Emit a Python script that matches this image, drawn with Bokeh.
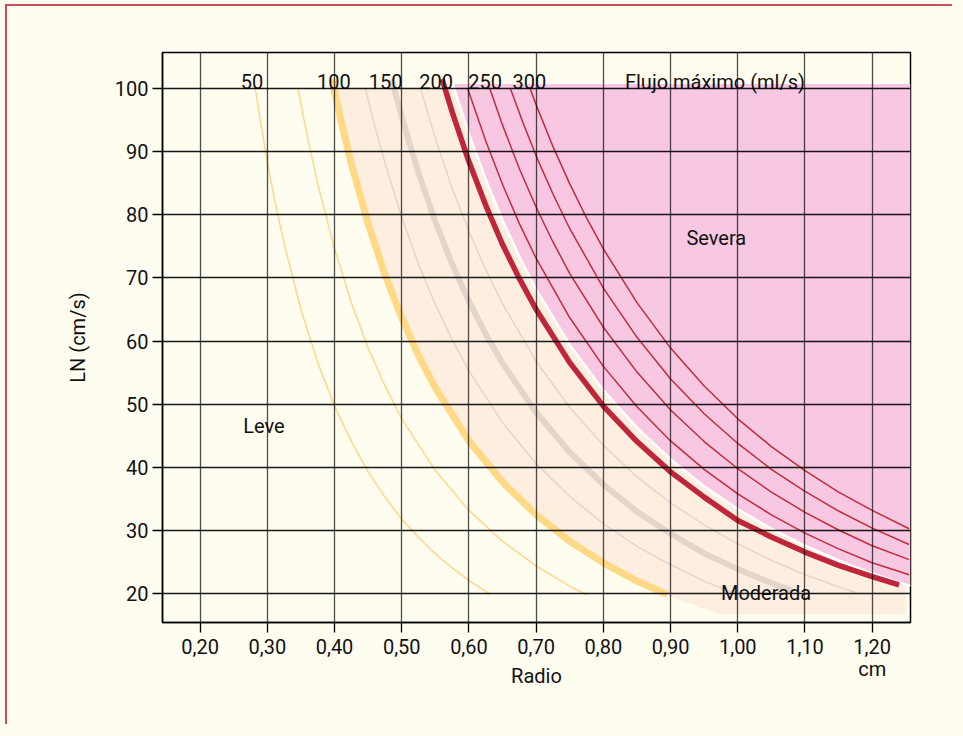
from bokeh.plotting import figure
from bokeh.models import Range1d, FixedTicker
from bokeh.core.properties import value
from bokeh.embed import file_html
from bokeh.resources import INLINE

FONT = "Roboto"

# ---- data: radius (cm) vs aliasing velocity LN (cm/s)
q50_r = [0.282, 0.29, 0.30, 0.31, 0.325, 0.35, 0.375, 0.40, 0.425, 0.45, 0.475, 0.50, 0.525, 0.55, 0.575, 0.60, 0.632]
q50_v = [100.0, 94.6, 88.4, 82.8, 75.4, 65.0, 56.6, 49.7, 44.1, 39.3, 35.3, 31.8, 28.9, 26.3, 24.1, 22.1, 19.9]

q75_r = [0.3455, 0.36, 0.375, 0.40, 0.425, 0.45, 0.475, 0.50, 0.55, 0.60, 0.65, 0.70, 0.75, 0.776]
q75_v = [100.0, 92.1, 84.9, 74.6, 66.1, 58.9, 52.9, 47.7, 39.5, 33.2, 28.3, 24.4, 21.2, 19.8]

q100_r = [0.396, 0.41, 0.425, 0.45, 0.475, 0.50, 0.525, 0.55, 0.60, 0.65, 0.70, 0.75, 0.80, 0.85, 0.895]
q100_v = [101.5, 94.7, 88.1, 78.6, 70.5, 63.7, 57.7, 52.6, 44.2, 37.7, 32.5, 28.3, 24.9, 22.0, 19.9]

q125_r = [0.446, 0.46, 0.475, 0.50, 0.525, 0.55, 0.575, 0.60, 0.65, 0.70, 0.75, 0.80, 0.85, 0.90, 0.95, 0.997]
q125_v = [100.0, 94.0, 88.2, 79.6, 72.2, 65.8, 60.2, 55.3, 47.1, 40.6, 35.4, 31.1, 27.5, 24.6, 22.0, 20.0]

q150_r = [0.485, 0.50, 0.525, 0.55, 0.575, 0.60, 0.625, 0.65, 0.70, 0.75, 0.80, 0.85, 0.90, 0.95, 1.00, 1.05, 1.08]
q150_v = [101.5, 95.5, 86.6, 78.9, 72.2, 66.3, 61.1, 56.5, 48.7, 42.4, 37.3, 33.0, 29.5, 26.4, 23.9, 21.7, 20.5]

q175_r = [0.528, 0.55, 0.575, 0.60, 0.625, 0.65, 0.70, 0.75, 0.80, 0.85, 0.90, 0.95, 1.00, 1.05, 1.10, 1.15, 1.175]
q175_v = [100.0, 92.1, 84.2, 77.4, 71.3, 65.9, 56.8, 49.5, 43.5, 38.5, 34.4, 30.9, 27.9, 25.3, 23.0, 21.1, 20.2]

q200_r = [0.56, 0.575, 0.60, 0.625, 0.65, 0.675, 0.70, 0.75, 0.80, 0.85, 0.90, 0.95, 1.00, 1.05, 1.10, 1.15, 1.20, 1.24]
q200_v = [101.5, 96.3, 88.4, 81.5, 75.3, 69.9, 65.0, 56.6, 49.7, 44.1, 39.3, 35.3, 31.6, 29.0, 26.6, 24.5, 22.7, 21.4]

q225_r = [0.598, 0.625, 0.65, 0.675, 0.70, 0.75, 0.80, 0.85, 0.90, 0.95, 1.00, 1.05, 1.10, 1.15, 1.20, 1.255]
q225_v = [100.0, 91.7, 84.8, 78.6, 73.1, 63.7, 56.0, 49.6, 44.2, 39.7, 35.8, 32.5, 29.6, 27.1, 24.9, 23.0]

q250_r = [0.631, 0.65, 0.675, 0.70, 0.725, 0.75, 0.80, 0.85, 0.90, 0.95, 1.00, 1.05, 1.10, 1.15, 1.20, 1.255]
q250_v = [100.0, 94.2, 87.3, 81.2, 75.7, 70.7, 62.2, 55.1, 49.1, 44.1, 39.8, 36.1, 32.9, 30.1, 27.6, 25.4]

q275_r = [0.6616, 0.68, 0.70, 0.725, 0.75, 0.80, 0.85, 0.90, 0.95, 1.00, 1.05, 1.10, 1.15, 1.20, 1.255]
q275_v = [100.0, 94.7, 89.3, 83.3, 77.8, 68.4, 60.6, 54.0, 48.5, 43.8, 39.7, 36.2, 33.1, 30.4, 27.8]

q300_r = [0.691, 0.70, 0.725, 0.75, 0.775, 0.80, 0.85, 0.90, 0.95, 1.00, 1.05, 1.10, 1.15, 1.20, 1.255]
q300_v = [100.0, 97.4, 90.8, 84.9, 79.5, 74.6, 66.1, 58.9, 52.9, 47.7, 43.3, 39.5, 36.1, 33.2, 30.3]

# region boundaries
severa_r = [0.576, 0.60, 0.625, 0.65, 0.675, 0.70, 0.75, 0.80, 0.85, 0.90, 0.95, 1.00, 1.05, 1.10, 1.15, 1.20, 1.257, 1.257]
severa_v = [100.7, 92.8, 85.6, 79.1, 73.4, 68.2, 59.4, 52.2, 46.3, 41.3, 37.0, 33.4, 30.3, 27.6, 25.3, 23.2, 21.2, 100.7]

moderada_r = [0.399, 0.41, 0.425, 0.45, 0.475, 0.50, 0.525, 0.55, 0.60, 0.65, 0.70, 0.75, 0.80, 0.85, 0.90, 0.95, 0.976, 1.25, 1.25]
moderada_v = [100.2, 94.7, 88.1, 78.6, 70.5, 63.7, 57.7, 52.6, 44.2, 37.7, 32.5, 28.3, 24.9, 22.0, 19.6, 17.6, 16.7, 16.7, 100.2]

flow_labels = ["50", "100", "150", "200", "250", "300", "Flujo máximo (ml/s)"]
flow_label_r = [0.277, 0.399, 0.476, 0.551, 0.624, 0.690, 0.966]

zone_labels = ["Leve", "Moderada", "Severa"]
zone_r = [0.295, 1.042, 0.968]
zone_v = [46.6, 20.2, 76.4]

x_ticks = [0.2, 0.3, 0.4, 0.5, 0.6, 0.7, 0.8, 0.9, 1.0, 1.1, 1.2]
x_tick_labels = ["0,20", "0,30", "0,40", "0,50", "0,60", "0,70", "0,80", "0,90", "1,00", "1,10", "1,20\ncm"]
y_ticks = [20, 30, 40, 50, 60, 70, 80, 90, 100]

BG = "#fffdf0"

p = figure(width=947, height=720, output_backend="svg", toolbar_location=None,
           x_range=Range1d(0.144, 1.257), y_range=Range1d(15.45, 105.7),
           min_border_left=155, min_border_top=46, min_border_right=44, min_border_bottom=104)
p.background_fill_color = BG
p.border_fill_color = BG
p.outline_line_color = "black"
p.outline_line_width = 1.5
p.styles = {"border-left": "2px solid #c9505d", "border-top": "2px solid #c9505d",
            "margin-left": "5px", "margin-top": "4px"}

# fills (below grid)
p.patch(moderada_r, moderada_v, fill_color="#fdeee0", line_color=None, level="underlay")
p.patch(severa_r, severa_v, fill_color="#f8c8e3", line_color=None, level="underlay")
p.line(severa_r[:-1], severa_v[:-1], line_color="white", line_width=2.5, level="underlay")

# curves
thin_yellow = "#ffd98e"
for rr, vv in [(q50_r, q50_v), (q75_r, q75_v)]:
    p.line(rr, vv, line_color=thin_yellow, line_width=1.6)
p.line(q100_r, q100_v, line_color="#ffd985", line_width=7)
for rr, vv in [(q125_r, q125_v), (q175_r, q175_v)]:
    p.line(rr, vv, line_color="#e4d6cc", line_width=1.6)
p.line(q150_r, q150_v, line_color="#e3d5ca", line_width=6)
for rr, vv in [(q225_r, q225_v), (q250_r, q250_v), (q275_r, q275_v), (q300_r, q300_v)]:
    p.line(rr, vv, line_color="#c42a3e", line_width=1.5)
p.line(q200_r, q200_v, line_color="#c0263a", line_width=5.5)

# texts
p.text(x=flow_label_r, y=[101.1] * len(flow_labels), text=flow_labels,
       text_font=value(FONT), text_font_size="20px", text_color="#111111",
       text_align="center", text_baseline="alphabetic")
p.text(x=zone_r, y=zone_v, text=zone_labels, text_font=value(FONT), text_font_size="20px",
       text_color="#111111", text_align="center", text_baseline="middle")

# axes
for ax in (p.xaxis[0], p.yaxis[0]):
    ax.axis_line_color = "black"
    ax.axis_line_width = 1.5
    ax.major_tick_line_color = "black"
    ax.major_tick_line_width = 1.3
    ax.minor_tick_line_color = None
    ax.major_tick_in = 0
    ax.major_tick_out = 10
    ax.major_label_text_font = FONT
    ax.major_label_text_font_size = "20px"
    ax.major_label_text_color = "#111111"
    ax.axis_label_text_font = FONT
    ax.axis_label_text_font_size = "20px"
    ax.axis_label_text_font_style = "normal"
    ax.axis_label_text_color = "#111111"

p.xaxis.ticker = FixedTicker(ticks=x_ticks)
p.xaxis.major_label_overrides = {t: l for t, l in zip(x_ticks, x_tick_labels)}
p.xaxis.major_label_text_line_height = 0.95
p.xaxis.axis_label = "Radio"
p.xaxis.major_label_standoff = 2
p.xaxis.axis_label_standoff = -20
p.yaxis.ticker = FixedTicker(ticks=y_ticks)
p.yaxis.axis_label = "LN (cm/s)"
p.yaxis.major_label_standoff = 4
p.yaxis.axis_label_standoff = 22

p.xgrid.ticker = FixedTicker(ticks=x_ticks)
p.ygrid.ticker = FixedTicker(ticks=y_ticks)
p.xgrid.grid_line_color = "black"
p.xgrid.grid_line_alpha = 0.7
p.xgrid.grid_line_width = 1.3
p.ygrid.grid_line_color = "black"
p.ygrid.grid_line_alpha = 0.9
p.ygrid.grid_line_width = 1.3
p.xgrid.level = "overlay"
p.ygrid.level = "overlay"

html = file_html(p, INLINE)
html = html.replace("</head>", "<style>html, body { background: #fffdf0; }</style></head>", 1)
open("out.html", "w").write(html)
